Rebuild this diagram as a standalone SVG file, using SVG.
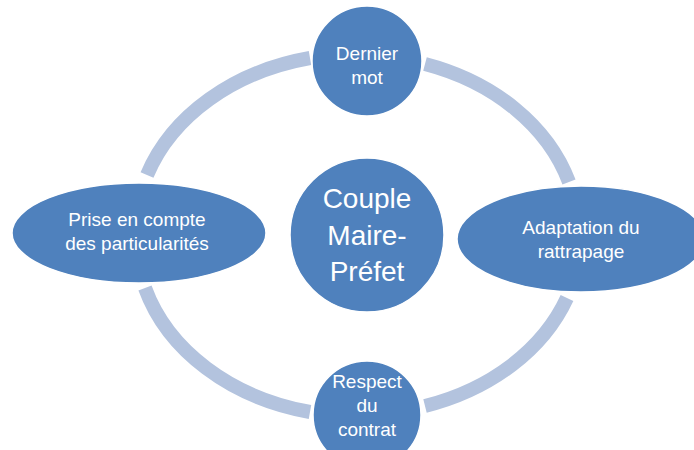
<svg xmlns="http://www.w3.org/2000/svg" width="694" height="450" viewBox="0 0 694 450">
<style>
.ring{fill:none;stroke:#B3C3DE;stroke-width:14;stroke-linecap:butt}
.node{fill:#4F81BD;stroke:#FFFFFF;stroke-width:1.5}
.t{font-family:"Liberation Sans",Arial,sans-serif;font-size:19px;fill:#FFFFFF;text-anchor:middle}
.tc{font-family:"Liberation Sans",Arial,sans-serif;font-size:28px;fill:#FFFFFF;text-anchor:middle}
</style>
<rect width="694" height="450" fill="#FFFFFF"/>
<g id="connectors">
<path class="ring" d="M147,175 A222,178 0 0 1 310,58"/>
<path class="ring" d="M425,64 A222,178 0 0 1 569,182"/>
<path class="ring" d="M567,298 A222,178 0 0 1 425,406"/>
<path class="ring" d="M310,412 A222,178 0 0 1 145,288"/>
</g>
<g id="node-center">
<circle class="node" cx="367" cy="235" r="77"/>
<text class="tc" x="367" y="208">Couple</text>
<text class="tc" x="367" y="245">Maire-</text>
<text class="tc" x="367" y="281">Préfet</text>
</g>
<g id="node-top">
<circle class="node" cx="367" cy="61" r="55"/>
<text class="t" x="367" y="60">Dernier</text>
<text class="t" x="367" y="84">mot</text>
</g>
<g id="node-right">
<ellipse class="node" cx="581" cy="239" rx="124" ry="53"/>
<text class="t" x="581" y="234">Adaptation du</text>
<text class="t" x="581" y="258">rattrapage</text>
</g>
<g id="node-bottom">
<circle class="node" cx="367" cy="415" r="54"/>
<text class="t" x="367" y="388">Respect</text>
<text class="t" x="367" y="412">du</text>
<text class="t" x="367" y="436">contrat</text>
</g>
<g id="node-left">
<ellipse class="node" cx="139" cy="233" rx="127" ry="50"/>
<text class="t" x="137" y="226">Prise en compte</text>
<text class="t" x="137" y="250">des particularités</text>
</g>
</svg>
